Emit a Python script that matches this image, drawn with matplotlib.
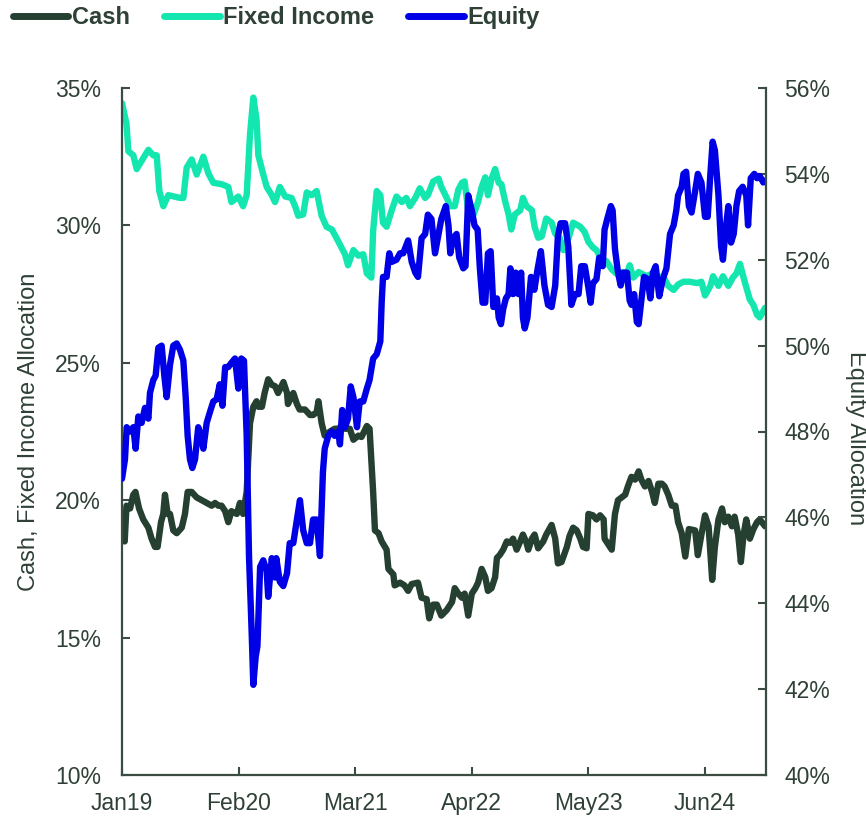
import numpy as np
import matplotlib
matplotlib.use('Agg')
import matplotlib.pyplot as plt
from matplotlib.lines import Line2D
from matplotlib.ticker import FuncFormatter

plt.rcParams['font.family'] = ['Liberation Sans', 'DejaVu Sans']

# x = months since Jan 2019
x_ticks = [0, 13, 26, 39, 52, 65]
x_labels = ['Jan19', 'Feb20', 'Mar21', 'Apr22', 'May23', 'Jun24']
left_ticks = [10, 15, 20, 25, 30, 35]
right_ticks = [40, 42, 44, 46, 48, 50, 52, 54, 56]

cash = [
    (0.0, 18.6), (0.3, 18.5), (0.5, 19.8), (0.9, 19.7), (1.26, 20.2), (1.5, 20.3),
    (1.9, 19.7), (2.37, 19.3), (2.94, 19.0), (3.3, 18.6), (3.68, 18.3), (3.97, 18.3),
    (4.35, 19.2), (4.6, 19.5), (4.79, 20.2), (5.09, 19.5), (5.35, 19.5), (5.72, 18.9),
    (6.1, 18.8), (6.66, 19.0), (7.02, 19.5), (7.32, 20.3), (7.77, 20.3), (8.33, 20.1),
    (8.88, 20.0), (9.44, 19.9), (10.0, 19.8), (10.37, 19.9), (10.74, 19.8), (11.1, 19.8),
    (11.5, 19.6), (11.85, 19.2), (12.2, 19.6), (12.8, 19.5), (13.15, 19.9), (13.5, 19.5),
    (13.9, 20.3), (14.27, 22.8), (14.64, 23.4), (15.0, 23.6), (15.2, 23.4), (15.6, 23.4),
    (15.9, 23.9), (16.3, 24.4), (16.7, 24.2), (17.06, 24.15), (17.4, 23.9), (18.0, 24.3),
    (18.4, 23.9), (18.5, 23.5), (19.1, 23.9), (19.5, 23.5), (19.8, 23.3), (20.4, 23.3),
    (20.96, 23.1), (21.3, 23.1), (21.7, 23.2), (21.9, 23.6), (22.26, 22.8), (22.6, 22.35),
    (23.2, 22.5), (23.7, 22.6), (24.1, 22.6), (24.5, 22.7), (24.86, 22.6), (25.4, 22.6),
    (25.8, 22.2), (26.35, 22.35), (26.7, 22.3), (27.3, 22.7), (27.6, 22.6), (28.0, 20.3),
    (28.2, 18.9), (28.6, 18.8), (28.95, 18.5), (29.5, 18.2), (29.7, 17.5), (30.25, 17.3),
    (30.4, 16.9), (31.0, 17.0), (31.5, 16.9), (31.9, 16.7), (32.3, 16.95), (33.0, 17.0),
    (33.4, 16.45), (33.96, 16.4), (34.25, 15.7), (34.7, 16.2), (35.1, 16.2), (35.6, 15.8),
    (36.2, 16.0), (36.8, 16.3), (37.1, 16.8), (37.5, 16.6), (37.9, 16.45), (38.2, 16.6),
    (38.6, 15.8), (39.0, 16.6), (39.4, 16.8), (39.7, 17.0), (40.1, 17.5), (40.5, 17.2),
    (40.8, 16.7), (41.2, 16.8), (41.6, 17.2), (41.8, 17.9), (42.1, 18.0), (42.5, 18.2),
    (42.9, 18.5), (43.3, 18.45), (43.6, 18.6), (44.0, 18.2), (44.4, 18.5), (44.7, 18.75),
    (45.1, 18.45), (45.3, 18.2), (45.7, 18.6), (46.0, 18.75), (46.4, 18.25), (46.97, 18.5),
    (47.3, 18.75), (47.9, 19.1), (48.3, 18.6), (48.6, 17.7), (49.0, 17.75), (49.6, 18.3),
    (49.9, 18.7), (50.3, 19.0), (50.7, 18.9), (51.1, 18.6), (51.4, 18.3), (51.8, 18.25),
    (52.0, 19.5), (52.5, 19.45), (52.9, 19.3), (53.3, 19.45), (53.7, 19.3), (53.8, 18.6),
    (54.2, 18.4), (54.6, 18.2), (54.96, 19.5), (55.3, 20.0), (55.7, 20.1), (56.1, 20.2),
    (56.4, 20.5), (56.8, 20.85), (57.2, 20.75), (57.6, 21.05), (57.9, 20.75), (58.3, 20.5),
    (58.7, 20.7), (59.1, 20.3), (59.4, 19.9), (59.8, 20.6), (60.2, 20.6), (60.5, 20.5),
    (60.9, 20.2), (61.3, 19.8), (61.7, 19.8), (62.0, 19.2), (62.4, 18.8), (62.8, 17.95),
    (63.2, 18.95), (63.9, 18.9), (64.2, 18.0), (64.6, 18.75), (65.0, 19.45), (65.4, 19.05),
    (65.8, 17.1), (66.1, 18.3), (66.5, 19.3), (66.9, 19.7), (67.2, 19.2), (67.6, 19.4),
    (68.0, 19.05), (68.3, 19.4), (68.7, 18.75), (69.0, 17.75), (69.3, 18.75), (69.6, 19.3),
    (70.0, 18.6), (70.4, 18.95), (70.8, 19.2), (71.1, 19.3), (71.7, 19.05),
]

fixed_income = [
    (0.0, 34.45), (0.5, 33.7), (0.71, 32.7), (1.26, 32.55), (1.64, 32.05), (2.19, 32.35),
    (2.94, 32.75), (3.49, 32.55), (3.87, 32.55), (4.16, 31.25), (4.61, 30.7), (5.16, 31.1),
    (6.47, 31.0), (6.84, 31.0), (7.21, 32.1), (7.77, 32.4), (8.33, 31.85), (9.07, 32.5),
    (9.62, 31.9), (10.18, 31.55), (11.1, 31.5), (11.85, 31.4), (12.2, 30.85), (12.97, 31.05),
    (13.5, 30.7), (13.9, 31.1), (14.27, 33.3), (14.64, 34.65), (15.0, 33.85), (15.2, 32.55),
    (15.75, 31.85), (16.13, 31.4), (16.7, 31.1), (17.06, 30.85), (17.6, 31.4), (18.2, 31.05),
    (18.9, 31.0), (19.3, 30.7), (19.65, 30.35), (20.2, 30.4), (20.6, 31.2), (21.15, 31.1),
    (21.7, 31.25), (22.26, 30.35), (22.8, 29.95), (23.4, 29.85), (23.9, 29.55), (24.3, 29.3),
    (24.86, 28.95), (25.2, 28.55), (25.8, 29.1), (26.35, 28.9), (26.9, 28.95), (27.3, 28.25),
    (27.8, 28.1), (28.0, 29.8), (28.4, 31.25), (28.8, 31.1), (29.1, 30.1), (29.5, 29.95),
    (30.07, 30.55), (30.6, 31.05), (31.2, 30.85), (31.7, 31.0), (32.1, 30.7), (32.7, 31.0),
    (33.2, 31.35), (33.8, 31.0), (34.1, 31.1), (34.7, 31.6), (35.3, 31.7), (35.6, 31.4),
    (36.2, 31.0), (36.6, 30.7), (37.1, 30.7), (37.5, 31.3), (37.9, 31.55), (38.2, 31.6),
    (38.6, 30.55), (39.2, 30.4), (39.7, 30.85), (40.1, 31.4), (40.5, 31.75), (40.8, 31.1),
    (41.2, 31.7), (41.6, 32.05), (42.0, 31.55), (42.3, 31.5), (42.7, 30.9), (43.1, 30.4),
    (43.4, 29.85), (43.8, 30.4), (44.4, 30.55), (44.7, 31.0), (45.1, 30.7), (45.7, 30.55),
    (46.0, 29.95), (46.4, 29.55), (46.8, 29.6), (47.3, 30.25), (47.9, 30.1), (48.3, 29.7),
    (48.8, 29.55), (49.2, 29.1), (49.8, 29.55), (50.3, 30.1), (51.1, 29.95), (51.6, 29.75),
    (52.0, 29.4), (52.5, 29.2), (52.9, 29.1), (53.5, 28.75), (54.0, 28.7), (54.6, 28.4),
    (55.1, 28.25), (55.7, 28.3), (56.3, 28.25), (56.6, 28.55), (57.0, 28.1), (57.6, 28.3),
    (57.9, 28.25), (58.5, 28.15), (59.1, 28.25), (59.6, 28.15), (60.4, 28.1), (60.9, 27.8),
    (61.5, 27.65), (62.0, 27.85), (62.6, 27.95), (63.3, 27.95), (64.1, 27.9), (64.6, 27.95),
    (65.0, 27.45), (65.6, 27.8), (65.9, 28.15), (66.5, 27.8), (67.0, 28.15), (67.6, 27.8),
    (68.1, 28.1), (68.5, 28.25), (68.9, 28.6), (69.3, 28.1), (69.6, 27.75), (70.0, 27.3),
    (70.4, 27.1), (70.8, 26.75), (71.1, 26.65), (71.7, 27.0),
]

equity = [
    (0.0, 46.9), (0.33, 47.35), (0.52, 48.1), (0.89, 48.0), (1.26, 48.1), (1.52, 47.6),
    (1.82, 48.35), (2.19, 48.2), (2.56, 48.55), (2.94, 48.3), (3.12, 48.9), (3.49, 49.2),
    (3.75, 49.3), (4.05, 49.95), (4.42, 50.0), (4.72, 49.3), (4.98, 48.8), (5.35, 49.55),
    (5.72, 50.0), (6.1, 50.05), (6.47, 49.9), (6.84, 49.65), (7.1, 48.8), (7.32, 47.9),
    (7.58, 47.35), (7.84, 47.15), (8.14, 47.35), (8.5, 48.1), (8.8, 47.9), (9.07, 47.6),
    (9.44, 48.2), (9.8, 48.45), (10.18, 48.7), (10.55, 48.75), (10.9, 49.1), (11.2, 48.6),
    (11.5, 49.5), (11.85, 49.5), (12.2, 49.6), (12.6, 49.7), (12.97, 49.0), (13.3, 49.7),
    (13.6, 49.65), (13.9, 47.9), (14.16, 45.1), (14.46, 43.3), (14.64, 42.1), (14.9, 42.75),
    (15.1, 43.0), (15.4, 44.85), (15.75, 45.0), (16.13, 44.75), (16.3, 44.15), (16.7, 45.05),
    (17.06, 44.6), (17.2, 45.05), (17.6, 44.5), (17.98, 44.4), (18.4, 44.7), (18.7, 45.4),
    (19.1, 45.4), (19.5, 45.95), (19.84, 46.4), (20.2, 45.7), (20.6, 45.4), (20.96, 45.4),
    (21.3, 45.95), (21.7, 45.95), (22.07, 45.1), (22.4, 47.05), (22.6, 47.6), (23.0, 47.9),
    (23.4, 48.0), (23.7, 47.9), (24.1, 48.0), (24.3, 47.7), (24.55, 48.5), (24.86, 48.1),
    (25.2, 48.3), (25.5, 49.05), (25.8, 48.8), (26.2, 48.1), (26.5, 48.7), (26.9, 48.7),
    (27.3, 49.0), (27.6, 49.2), (28.0, 49.7), (28.4, 49.8), (28.8, 50.1), (28.95, 51.0),
    (29.1, 51.6), (29.5, 51.6), (29.8, 52.15), (30.07, 51.95), (30.6, 52.0), (31.0, 52.15),
    (31.35, 52.15), (31.9, 52.45), (32.3, 51.95), (32.7, 51.7), (33.0, 51.6), (33.4, 52.5),
    (33.8, 52.6), (34.1, 53.05), (34.5, 52.95), (34.9, 52.15), (35.3, 52.6), (35.6, 52.95),
    (36.1, 53.25), (36.4, 52.8), (36.6, 52.15), (36.9, 52.5), (37.3, 52.6), (37.6, 52.05),
    (38.05, 51.8), (38.3, 51.85), (38.6, 53.5), (39.0, 53.15), (39.3, 52.8), (39.65, 52.7),
    (39.9, 51.8), (40.2, 51.0), (40.5, 51.0), (40.8, 52.15), (41.1, 52.2), (41.4, 50.9),
    (41.8, 51.1), (42.0, 50.65), (42.25, 50.5), (42.5, 50.85), (42.8, 51.1), (43.1, 51.2),
    (43.3, 51.8), (43.6, 51.2), (43.9, 51.7), (44.2, 51.2), (44.5, 51.7), (44.7, 50.65),
    (44.9, 50.4), (45.2, 50.65), (45.6, 51.6), (45.97, 51.3), (46.35, 51.8), (46.7, 52.2),
    (47.1, 51.4), (47.5, 50.95), (47.9, 50.9), (48.3, 51.4), (48.6, 52.55), (48.9, 52.85),
    (49.4, 52.85), (49.76, 52.3), (50.1, 50.95), (50.5, 51.2), (50.9, 51.2), (51.2, 51.85),
    (51.6, 51.85), (52.0, 51.35), (52.25, 51.0), (52.5, 51.45), (52.9, 51.55), (53.2, 52.05),
    (53.6, 51.85), (53.8, 52.7), (54.1, 52.95), (54.5, 53.25), (54.7, 53.15), (54.96, 52.25),
    (55.3, 51.7), (55.6, 51.4), (55.9, 51.7), (56.3, 51.7), (56.6, 51.05), (56.8, 50.95),
    (57.1, 51.2), (57.4, 50.55), (57.6, 50.5), (57.9, 51.05), (58.2, 51.6), (58.6, 51.55),
    (58.9, 51.1), (59.2, 51.7), (59.5, 51.85), (59.9, 51.15), (60.3, 51.55), (60.7, 51.8),
    (61.1, 52.6), (61.5, 52.8), (61.8, 53.15), (62.0, 53.5), (62.4, 53.7), (62.6, 54.0),
    (62.9, 54.05), (63.2, 53.25), (63.5, 53.1), (63.9, 53.6), (64.2, 54.0), (64.6, 53.8),
    (65.0, 53.0), (65.3, 53.0), (65.6, 54.0), (65.85, 54.75), (66.1, 54.55), (66.5, 53.5),
    (66.8, 52.3), (67.0, 52.0), (67.3, 52.7), (67.6, 53.25), (67.9, 52.4), (68.2, 52.6),
    (68.5, 53.25), (68.8, 53.6), (69.2, 53.7), (69.6, 53.5), (69.8, 52.8), (70.1, 53.9),
    (70.5, 54.0), (70.8, 53.9), (71.1, 53.95), (71.5, 53.8), (71.8, 53.85),
]

c_cash = '#253f31'
c_fi = '#14e6b0'
c_eq = '#0000e6'
c_txt = '#2f4136'
c_axis = '#3b4d43'
lw = 4.6

fig = plt.figure(figsize=(8.66, 8.18), dpi=100)
ax = fig.add_axes([122 / 866, 1 - 775 / 818, 644 / 866, 687 / 818])
ax2 = ax.twinx()

cx, cy = np.array(cash).T
fx, fy = np.array(fixed_income).T
ex, ey = np.array(equity).T
kw = dict(lw=lw, solid_joinstyle='round', solid_capstyle='round')
ax.plot(cx, cy, color=c_cash, **kw)
ax.plot(fx, fy, color=c_fi, **kw)
ax2.plot(ex, ey, color=c_eq, **kw)

ax.set_xlim(0, 71.8)
ax.set_ylim(10, 35)
ax2.set_ylim(40, 56)
ax.set_xticks(x_ticks)
ax.set_xticklabels(x_labels)
ax.set_yticks(left_ticks)
ax2.set_yticks(right_ticks)
pct = FuncFormatter(lambda v, p: '%d%%' % v)
ax.yaxis.set_major_formatter(pct)
ax2.yaxis.set_major_formatter(pct)

for a in (ax, ax2):
    a.spines['top'].set_visible(False)
    for s in ('left', 'right', 'bottom'):
        a.spines[s].set_color(c_axis)
        a.spines[s].set_linewidth(1.6)
    a.tick_params(direction='in', length=6, width=1.5, color=c_axis,
                  labelcolor=c_txt, labelsize=16.5)
ax.tick_params(axis='y', pad=15)
ax.tick_params(axis='x', pad=12)
ax2.tick_params(axis='y', pad=13)
ax.tick_params(axis='y', which='both', right=False)
ax.spines['right'].set_visible(False)
ax2.spines['left'].set_visible(False)
ax2.spines['bottom'].set_visible(False)

ax.set_ylabel('Cash, Fixed Income Allocation', fontsize=17, color=c_txt)
ax.yaxis.set_label_coords(-0.127, 0.5)
ax2.set_ylabel('Equity Allocation', fontsize=17, color=c_txt, rotation=270,
               va='bottom')
ax2.yaxis.set_label_coords(1.123, 0.49)

handles = [Line2D([], [], color=c_cash, lw=5, solid_capstyle='round'),
           Line2D([], [], color=c_fi, lw=5, solid_capstyle='round'),
           Line2D([], [], color=c_eq, lw=5, solid_capstyle='round')]
fig.legend(handles, ['Cash', 'Fixed Income', 'Equity'], loc='upper left',
           bbox_to_anchor=(0.012, 0.995), ncol=3, frameon=False,
           prop={'weight': 'bold', 'size': 17}, labelcolor=c_txt,
           handlelength=2.35, handletextpad=0.15, columnspacing=1.45,
           borderpad=0.1, borderaxespad=0)

fig.savefig('out.png', dpi=100)
